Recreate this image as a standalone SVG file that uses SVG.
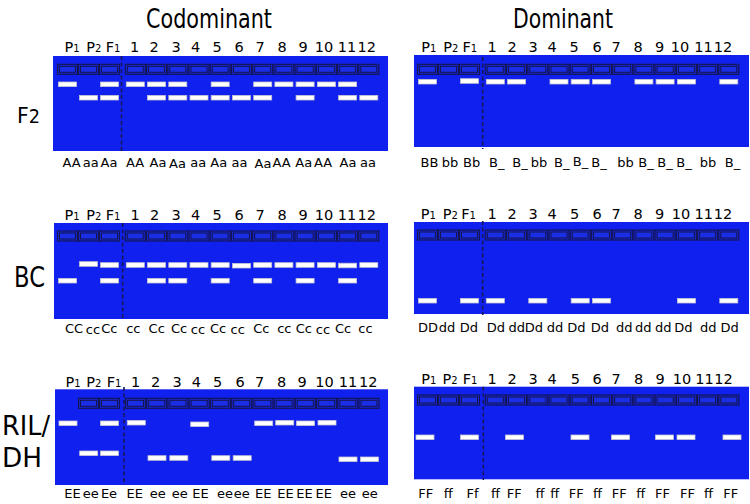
<svg xmlns="http://www.w3.org/2000/svg" xmlns:xlink="http://www.w3.org/1999/xlink" width="750" height="504" viewBox="0 0 750 504">
<style>
.gel{fill:#1020ee}
.wo{fill:#1526d6;stroke:#15154c;stroke-width:1.1}
.wi{fill:#1a2ee6;stroke:#15154c;stroke-width:1}
.band{fill:#ffffff;stroke:#c2c2d2;stroke-width:0.8}
.dash{stroke:#17175a;stroke-width:1.6;stroke-dasharray:4 2.5;fill:none}
text{font-family:"DejaVu Sans",Verdana,sans-serif;fill:#000}
.lbl{font-size:14.5px;text-anchor:middle}
.sub{font-size:10px}
.gt{font-size:13px;text-anchor:middle}
.title{font-size:27px}
.row{font-size:28px}
.row2{font-size:26px}
</style>
<defs>
<g id="well"><rect x="-10" y="0" width="20" height="10" class="wo"/><rect x="-8" y="2" width="16" height="6" class="wi"/></g>
<rect id="band" x="-9" y="-2.3" width="18" height="4.6" class="band"/>
</defs>

<g id="titles">
<text class="title" x="146" y="28" textLength="126" lengthAdjust="spacingAndGlyphs">Codominant</text>
<text class="title" x="513" y="28" textLength="100" lengthAdjust="spacingAndGlyphs">Dominant</text>
</g>

<g id="row-labels">
<text x="17" y="123" style="font-size:22px" textLength="23" lengthAdjust="spacingAndGlyphs">F<tspan style="font-size:19px">2</tspan></text>
<text class="row" x="14" y="287.3" textLength="31" lengthAdjust="spacingAndGlyphs">BC</text>
<text class="row2" x="2" y="435" textLength="48" lengthAdjust="spacingAndGlyphs">RIL/</text>
<text class="row2" x="2" y="466.7" textLength="40" lengthAdjust="spacingAndGlyphs">DH</text>
</g>

<!-- ===== F2 codominant ===== -->
<g id="f2-codominant">
<rect class="gel" x="53" y="56" width="335" height="95"/>
<g>
<use xlink:href="#well" x="67.5" y="64.3"/><use xlink:href="#well" x="88.5" y="64.3"/><use xlink:href="#well" x="109.5" y="64.3"/>
<use xlink:href="#well" x="135.3" y="64.3"/><use xlink:href="#well" x="156.5" y="64.3"/><use xlink:href="#well" x="177.8" y="64.3"/>
<use xlink:href="#well" x="199" y="64.3"/><use xlink:href="#well" x="220.2" y="64.3"/><use xlink:href="#well" x="241.5" y="64.3"/>
<use xlink:href="#well" x="262.7" y="64.3"/><use xlink:href="#well" x="283.9" y="64.3"/><use xlink:href="#well" x="305.1" y="64.3"/>
<use xlink:href="#well" x="326.4" y="64.3"/><use xlink:href="#well" x="347.6" y="64.3"/><use xlink:href="#well" x="368.8" y="64.3"/>
</g>
<line class="dash" x1="121.5" y1="56" x2="121.5" y2="151"/>
<g>
<use xlink:href="#band" x="67.5" y="84.3"/><use xlink:href="#band" x="109.5" y="84.3"/><use xlink:href="#band" x="135.3" y="84.3"/>
<use xlink:href="#band" x="156.5" y="84.3"/><use xlink:href="#band" x="177.8" y="84.3"/><use xlink:href="#band" x="220.2" y="84.3"/>
<use xlink:href="#band" x="262.7" y="84.3"/><use xlink:href="#band" x="283.9" y="84.3"/><use xlink:href="#band" x="305.1" y="84.3"/>
<use xlink:href="#band" x="326.4" y="84.3"/><use xlink:href="#band" x="347.6" y="84.3"/>
<use xlink:href="#band" x="88.5" y="97.7"/><use xlink:href="#band" x="109.5" y="97.7"/><use xlink:href="#band" x="156.5" y="97.7"/>
<use xlink:href="#band" x="177.8" y="97.7"/><use xlink:href="#band" x="199" y="97.7"/><use xlink:href="#band" x="220.2" y="97.7"/>
<use xlink:href="#band" x="241.5" y="97.7"/><use xlink:href="#band" x="262.7" y="97.7"/><use xlink:href="#band" x="305.1" y="97.7"/>
<use xlink:href="#band" x="347.6" y="97.7"/><use xlink:href="#band" x="368.8" y="97.7"/>
</g>
<g>
<text class="lbl" x="72" y="51.7">P<tspan class="sub">1</tspan></text><text class="lbl" x="93.7" y="51.7">P<tspan class="sub">2</tspan></text><text class="lbl" x="113" y="51.7">F<tspan class="sub">1</tspan></text>
<text class="lbl" x="134.5" y="51.7">1</text><text class="lbl" x="154" y="51.7">2</text><text class="lbl" x="176" y="51.7">3</text>
<text class="lbl" x="195.5" y="51.7">4</text><text class="lbl" x="217" y="51.7">5</text><text class="lbl" x="239" y="51.7">6</text>
<text class="lbl" x="260" y="51.7">7</text><text class="lbl" x="282" y="51.7">8</text><text class="lbl" x="303" y="51.7">9</text>
<text class="lbl" x="324" y="51.7">10</text><text class="lbl" x="347" y="51.7">11</text><text class="lbl" x="366.7" y="51.7">12</text>
</g>
<g>
<text class="gt" x="71.7" y="166.7">AA</text><text class="gt" x="90.8" y="166.7">aa</text><text class="gt" x="109" y="166.7">Aa</text>
<text class="gt" x="135" y="166.7">AA</text><text class="gt" x="158" y="166.7">Aa</text><text class="gt" x="177.5" y="168">Aa</text>
<text class="gt" x="198.3" y="166.7">aa</text><text class="gt" x="218.7" y="166.7">Aa</text><text class="gt" x="239.5" y="166.7">aa</text>
<text class="gt" x="263" y="168">Aa</text><text class="gt" x="281.7" y="166.7">AA</text><text class="gt" x="303.8" y="166.7">Aa</text>
<text class="gt" x="323" y="166.7">AA</text><text class="gt" x="348" y="166.7">Aa</text><text class="gt" x="368" y="166.7">aa</text>
</g>
</g>

<!-- ===== F2 dominant ===== -->
<g id="f2-dominant">
<rect class="gel" x="414" y="55" width="335" height="92"/>
<g>
<use xlink:href="#well" x="427.5" y="64.3"/><use xlink:href="#well" x="448.5" y="64.3"/><use xlink:href="#well" x="469.5" y="64.3"/>
<use xlink:href="#well" x="495.3" y="64.3"/><use xlink:href="#well" x="516.5" y="64.3"/><use xlink:href="#well" x="537.8" y="64.3"/>
<use xlink:href="#well" x="559" y="64.3"/><use xlink:href="#well" x="580.2" y="64.3"/><use xlink:href="#well" x="601.5" y="64.3"/>
<use xlink:href="#well" x="622.7" y="64.3"/><use xlink:href="#well" x="643.9" y="64.3"/><use xlink:href="#well" x="665.1" y="64.3"/>
<use xlink:href="#well" x="686.4" y="64.3"/><use xlink:href="#well" x="707.6" y="64.3"/><use xlink:href="#well" x="728.8" y="64.3"/>
</g>
<line class="dash" x1="482.7" y1="57" x2="482.7" y2="149"/>
<g>
<use xlink:href="#band" x="427.5" y="81.7"/><use xlink:href="#band" x="469.5" y="81"/><use xlink:href="#band" x="495.3" y="81.7"/>
<use xlink:href="#band" x="516.5" y="81.7"/><use xlink:href="#band" x="559" y="81.7"/><use xlink:href="#band" x="580.2" y="81.7"/>
<use xlink:href="#band" x="601.5" y="81.7"/><use xlink:href="#band" x="643.9" y="81.7"/><use xlink:href="#band" x="665.1" y="81.7"/>
<use xlink:href="#band" x="686.4" y="81.7"/><use xlink:href="#band" x="728.8" y="81.7"/>
</g>
<g>
<text class="lbl" x="428.8" y="51.7">P<tspan class="sub">1</tspan></text><text class="lbl" x="450.8" y="51.7">P<tspan class="sub">2</tspan></text><text class="lbl" x="469.8" y="51.7">F<tspan class="sub">1</tspan></text>
<text class="lbl" x="492" y="51.7">1</text><text class="lbl" x="512" y="51.7">2</text><text class="lbl" x="533" y="51.7">3</text>
<text class="lbl" x="552" y="51.7">4</text><text class="lbl" x="574" y="51.7">5</text><text class="lbl" x="597" y="51.7">6</text>
<text class="lbl" x="616" y="51.7">7</text><text class="lbl" x="638" y="51.7">8</text><text class="lbl" x="659.5" y="51.7">9</text>
<text class="lbl" x="680" y="51.7">10</text><text class="lbl" x="703.5" y="51.7">11</text><text class="lbl" x="723" y="51.7">12</text>
</g>
<g>
<text class="gt" x="429.5" y="166.7">BB</text><text class="gt" x="450" y="166.7">bb</text><text class="gt" x="471.7" y="166.7">Bb</text>
<text class="gt" x="496.7" y="166.7">B_</text><text class="gt" x="520" y="166.7">B_</text><text class="gt" x="539" y="166.7">bb</text>
<text class="gt" x="561.7" y="166.7">B_</text><text class="gt" x="580.5" y="165.5">B_</text><text class="gt" x="599" y="166.7">B_</text>
<text class="gt" x="625.5" y="166.7">bb</text><text class="gt" x="646" y="166.7">B_</text><text class="gt" x="665" y="166.7">B_</text>
<text class="gt" x="684" y="166.7">B_</text><text class="gt" x="708" y="166.7">bb</text><text class="gt" x="732.5" y="166.7">B_</text>
</g>
</g>

<!-- ===== BC codominant ===== -->
<g id="bc-codominant">
<rect class="gel" x="54" y="223" width="334" height="96"/>
<g>
<use xlink:href="#well" x="67.5" y="231"/><use xlink:href="#well" x="88.5" y="231"/><use xlink:href="#well" x="109.5" y="231"/>
<use xlink:href="#well" x="135.3" y="231"/><use xlink:href="#well" x="156.5" y="231"/><use xlink:href="#well" x="177.8" y="231"/>
<use xlink:href="#well" x="199" y="231"/><use xlink:href="#well" x="220.2" y="231"/><use xlink:href="#well" x="241.5" y="231"/>
<use xlink:href="#well" x="262.7" y="231"/><use xlink:href="#well" x="283.9" y="231"/><use xlink:href="#well" x="305.1" y="231"/>
<use xlink:href="#well" x="326.4" y="231"/><use xlink:href="#well" x="347.6" y="231"/><use xlink:href="#well" x="368.8" y="231"/>
</g>
<line class="dash" x1="122.7" y1="223" x2="122.7" y2="318"/>
<g>
<use xlink:href="#band" x="88.5" y="264"/><use xlink:href="#band" x="109.5" y="265"/><use xlink:href="#band" x="135.3" y="265"/>
<use xlink:href="#band" x="156.5" y="265"/><use xlink:href="#band" x="177.8" y="265"/><use xlink:href="#band" x="199" y="265"/>
<use xlink:href="#band" x="220.2" y="265"/><use xlink:href="#band" x="241.5" y="265.7"/><use xlink:href="#band" x="262.7" y="265"/>
<use xlink:href="#band" x="283.9" y="265"/><use xlink:href="#band" x="305.1" y="265"/><use xlink:href="#band" x="326.4" y="265"/>
<use xlink:href="#band" x="347.6" y="265.5"/><use xlink:href="#band" x="368.8" y="265"/>
<use xlink:href="#band" x="67.5" y="280.7"/><use xlink:href="#band" x="109.5" y="280.7"/><use xlink:href="#band" x="156.5" y="280.7"/>
<use xlink:href="#band" x="177.8" y="280.7"/><use xlink:href="#band" x="220.2" y="280.7"/><use xlink:href="#band" x="262.7" y="280.7"/>
<use xlink:href="#band" x="305.1" y="280.7"/><use xlink:href="#band" x="347.6" y="280.7"/>
</g>
<g>
<text class="lbl" x="72" y="220">P<tspan class="sub">1</tspan></text><text class="lbl" x="93.7" y="220">P<tspan class="sub">2</tspan></text><text class="lbl" x="113" y="220">F<tspan class="sub">1</tspan></text>
<text class="lbl" x="135" y="220">1</text><text class="lbl" x="154.5" y="220">2</text><text class="lbl" x="176" y="220">3</text>
<text class="lbl" x="195.5" y="220">4</text><text class="lbl" x="217" y="220">5</text><text class="lbl" x="239" y="220">6</text>
<text class="lbl" x="260" y="220">7</text><text class="lbl" x="282" y="220">8</text><text class="lbl" x="303" y="220">9</text>
<text class="lbl" x="324" y="220">10</text><text class="lbl" x="347" y="220">11</text><text class="lbl" x="366.7" y="220">12</text>
</g>
<g>
<text class="gt" x="74" y="333.3">CC</text><text class="gt" x="93" y="334">cc</text><text class="gt" x="109.3" y="333.3">Cc</text>
<text class="gt" x="133.3" y="333.3">cc</text><text class="gt" x="156.7" y="333.3">Cc</text><text class="gt" x="179" y="333.3">Cc</text>
<text class="gt" x="198" y="334">cc</text><text class="gt" x="218" y="333.3">Cc</text><text class="gt" x="237.7" y="334">cc</text>
<text class="gt" x="261.3" y="333.3">Cc</text><text class="gt" x="284.3" y="333.3">cc</text><text class="gt" x="303.8" y="333.3">Cc</text>
<text class="gt" x="323" y="334">cc</text><text class="gt" x="343" y="333.3">Cc</text><text class="gt" x="365.5" y="333.3">cc</text>
</g>
</g>

<!-- ===== BC dominant ===== -->
<g id="bc-dominant">
<rect class="gel" x="414" y="222" width="335" height="92"/>
<g>
<use xlink:href="#well" x="427.5" y="230"/><use xlink:href="#well" x="448.5" y="230"/><use xlink:href="#well" x="469.5" y="230"/>
<use xlink:href="#well" x="495.3" y="230"/><use xlink:href="#well" x="516.5" y="230"/><use xlink:href="#well" x="537.8" y="230"/>
<use xlink:href="#well" x="559" y="230"/><use xlink:href="#well" x="580.2" y="230"/><use xlink:href="#well" x="601.5" y="230"/>
<use xlink:href="#well" x="622.7" y="230"/><use xlink:href="#well" x="643.9" y="230"/><use xlink:href="#well" x="665.1" y="230"/>
<use xlink:href="#well" x="686.4" y="230"/><use xlink:href="#well" x="707.6" y="230"/><use xlink:href="#well" x="728.8" y="230"/>
</g>
<line class="dash" x1="482.7" y1="221" x2="482.7" y2="315"/>
<g>
<use xlink:href="#band" x="427.5" y="300.7"/><use xlink:href="#band" x="469.5" y="300.7"/><use xlink:href="#band" x="495.3" y="300.7"/>
<use xlink:href="#band" x="537.8" y="300.7"/><use xlink:href="#band" x="580.2" y="300.7"/><use xlink:href="#band" x="601.5" y="300.7"/>
<use xlink:href="#band" x="686.4" y="300.7"/><use xlink:href="#band" x="728.8" y="300.7"/>
</g>
<g>
<text class="lbl" x="428.3" y="219.3">P<tspan class="sub">1</tspan></text><text class="lbl" x="450.3" y="219.3">P<tspan class="sub">2</tspan></text><text class="lbl" x="468.5" y="219.3">F<tspan class="sub">1</tspan></text>
<text class="lbl" x="492" y="219.3">1</text><text class="lbl" x="512" y="219.3">2</text><text class="lbl" x="533" y="219.3">3</text>
<text class="lbl" x="552" y="219.3">4</text><text class="lbl" x="574.7" y="219.3">5</text><text class="lbl" x="597" y="219.3">6</text>
<text class="lbl" x="616" y="219.3">7</text><text class="lbl" x="638" y="219.3">8</text><text class="lbl" x="659.5" y="219.3">9</text>
<text class="lbl" x="681" y="219.3">10</text><text class="lbl" x="703.8" y="219.3">11</text><text class="lbl" x="723" y="219.3">12</text>
</g>
<g>
<text class="gt" x="428" y="332.3">DD</text><text class="gt" x="447" y="332.3">dd</text><text class="gt" x="469" y="332.3">Dd</text>
<text class="gt" x="495.8" y="332.3">Dd</text><text class="gt" x="516.7" y="332.3">dd</text><text class="gt" x="534" y="332.3">Dd</text>
<text class="gt" x="555" y="331.5">dd</text><text class="gt" x="576.3" y="332.3">Dd</text><text class="gt" x="600" y="332.3">Dd</text>
<text class="gt" x="624.3" y="332.3">dd</text><text class="gt" x="643.3" y="331.5">dd</text><text class="gt" x="663.3" y="331.5">dd</text>
<text class="gt" x="683.3" y="332.3">Dd</text><text class="gt" x="708.3" y="332.3">dd</text><text class="gt" x="729.7" y="332.3">Dd</text>
</g>
</g>

<!-- ===== RIL/DH codominant ===== -->
<g id="ril-codominant">
<rect class="gel" x="55" y="389.3" width="333" height="95.7"/>
<g>
<use xlink:href="#well" x="88.5" y="398.3"/><use xlink:href="#well" x="109.5" y="398.3"/>
<use xlink:href="#well" x="135.5" y="398.3"/><use xlink:href="#well" x="156.7" y="398.3"/><use xlink:href="#well" x="178" y="398.3"/>
<use xlink:href="#well" x="199.2" y="398.3"/><use xlink:href="#well" x="220.4" y="398.3"/><use xlink:href="#well" x="241.7" y="398.3"/>
<use xlink:href="#well" x="262.9" y="398.3"/><use xlink:href="#well" x="284.1" y="398.3"/><use xlink:href="#well" x="305.3" y="398.3"/>
<use xlink:href="#well" x="326.6" y="398.3"/><use xlink:href="#well" x="347.8" y="398.3"/><use xlink:href="#well" x="369" y="398.3"/>
</g>
<line class="dash" x1="124" y1="387" x2="124" y2="485"/>
<g>
<use xlink:href="#band" x="68" y="423.3"/><use xlink:href="#band" x="109.5" y="423.3"/><use xlink:href="#band" x="136.3" y="422.7"/>
<use xlink:href="#band" x="199.7" y="424.3"/><use xlink:href="#band" x="263.7" y="423.3"/><use xlink:href="#band" x="284.7" y="422.7"/>
<use xlink:href="#band" x="305.5" y="423.3"/><use xlink:href="#band" x="327" y="422.7"/>
<use xlink:href="#band" x="88.7" y="453.3"/><use xlink:href="#band" x="109.5" y="453.3"/>
<use xlink:href="#band" x="157" y="458"/><use xlink:href="#band" x="178.8" y="458"/><use xlink:href="#band" x="220.8" y="458"/>
<use xlink:href="#band" x="242.2" y="458"/><use xlink:href="#band" x="348" y="459.3"/><use xlink:href="#band" x="369.5" y="459.3"/>
</g>
<g>
<text class="lbl" x="73" y="386.7">P<tspan class="sub">1</tspan></text><text class="lbl" x="93.7" y="386.7">P<tspan class="sub">2</tspan></text><text class="lbl" x="114" y="386.7">F<tspan class="sub">1</tspan></text>
<text class="lbl" x="135.5" y="386.7">1</text><text class="lbl" x="155.5" y="386.7">2</text><text class="lbl" x="177" y="386.7">3</text>
<text class="lbl" x="196.3" y="386.7">4</text><text class="lbl" x="217.5" y="386.7">5</text><text class="lbl" x="240" y="386.7">6</text>
<text class="lbl" x="259.7" y="386.7">7</text><text class="lbl" x="281.7" y="386.7">8</text><text class="lbl" x="302.2" y="386.7">9</text>
<text class="lbl" x="324.5" y="386.7">10</text><text class="lbl" x="348" y="386.7">11</text><text class="lbl" x="368.3" y="386.7">12</text>
</g>
<g>
<text class="gt" x="72.5" y="498.3">EE</text><text class="gt" x="90.8" y="498.3">ee</text><text class="gt" x="109" y="498.3">Ee</text>
<text class="gt" x="134.7" y="498.3">EE</text><text class="gt" x="157.8" y="498.3">ee</text><text class="gt" x="179.7" y="498.3">ee</text>
<text class="gt" x="200.5" y="498.3">EE</text><text class="gt" x="225" y="498.3">ee</text><text class="gt" x="241.7" y="498.3">ee</text>
<text class="gt" x="263.3" y="498.3">EE</text><text class="gt" x="285.5" y="498.3">EE</text><text class="gt" x="304.5" y="498.3">EE</text>
<text class="gt" x="323.8" y="498.3">EE</text><text class="gt" x="348" y="498.3">ee</text><text class="gt" x="369.7" y="498.3">ee</text>
</g>
</g>

<!-- ===== RIL/DH dominant ===== -->
<g id="ril-dominant">
<rect class="gel" x="414" y="386.7" width="335" height="92.6"/>
<g>
<use xlink:href="#well" x="427.5" y="395"/><use xlink:href="#well" x="448.5" y="395"/><use xlink:href="#well" x="469.5" y="395"/>
<use xlink:href="#well" x="495.3" y="395"/><use xlink:href="#well" x="516.5" y="395"/><use xlink:href="#well" x="537.8" y="395"/>
<use xlink:href="#well" x="559" y="395"/><use xlink:href="#well" x="580.2" y="395"/><use xlink:href="#well" x="601.5" y="395"/>
<use xlink:href="#well" x="622.7" y="395"/><use xlink:href="#well" x="643.9" y="395"/><use xlink:href="#well" x="665.1" y="395"/>
<use xlink:href="#well" x="686.4" y="395"/><use xlink:href="#well" x="707.6" y="395"/><use xlink:href="#well" x="728.8" y="395"/>
</g>
<line class="dash" x1="483.3" y1="386.7" x2="483.3" y2="480"/>
<g>
<use xlink:href="#band" x="425" y="437.3"/><use xlink:href="#band" x="469.5" y="437.3"/><use xlink:href="#band" x="514.5" y="437.3"/>
<use xlink:href="#band" x="580" y="437.3"/><use xlink:href="#band" x="620.5" y="437.3"/><use xlink:href="#band" x="664.5" y="437.3"/>
<use xlink:href="#band" x="686" y="437.3"/><use xlink:href="#band" x="732" y="437.3"/>
</g>
<g>
<text class="lbl" x="428.8" y="384">P<tspan class="sub">1</tspan></text><text class="lbl" x="450" y="384">P<tspan class="sub">2</tspan></text><text class="lbl" x="470" y="384">F<tspan class="sub">1</tspan></text>
<text class="lbl" x="492" y="384">1</text><text class="lbl" x="512" y="384">2</text><text class="lbl" x="533" y="384">3</text>
<text class="lbl" x="552" y="384">4</text><text class="lbl" x="575.3" y="384">5</text><text class="lbl" x="597" y="384">6</text>
<text class="lbl" x="616" y="384">7</text><text class="lbl" x="638.7" y="384">8</text><text class="lbl" x="660" y="384">9</text>
<text class="lbl" x="682" y="384">10</text><text class="lbl" x="704.5" y="384">11</text><text class="lbl" x="723.5" y="384">12</text>
</g>
<g>
<text class="gt" x="425.8" y="498.3">FF</text><text class="gt" x="448.3" y="498.3">ff</text><text class="gt" x="472.5" y="498.3">Ff</text>
<text class="gt" x="495.5" y="498.3">ff</text><text class="gt" x="514.2" y="498.3">FF</text><text class="gt" x="540" y="498.3">ff</text>
<text class="gt" x="554.7" y="498.3">ff</text><text class="gt" x="576.3" y="498.3">FF</text><text class="gt" x="597.5" y="498.3">ff</text>
<text class="gt" x="619.2" y="498.3">FF</text><text class="gt" x="640.8" y="498.3">ff</text><text class="gt" x="662.5" y="498.3">FF</text>
<text class="gt" x="687.5" y="498.3">FF</text><text class="gt" x="708.5" y="498.3">ff</text><text class="gt" x="730.8" y="498.3">FF</text>
</g>
</g>
</svg>
